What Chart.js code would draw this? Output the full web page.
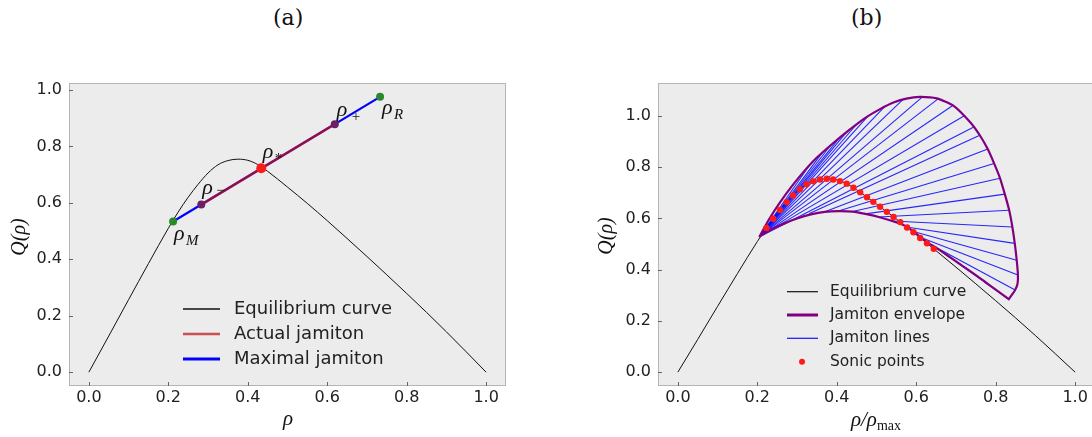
<!DOCTYPE html>
<html><head><meta charset="utf-8">
<script src="https://cdn.jsdelivr.net/npm/chart.js@4.4.0/dist/chart.umd.min.js"></script>
<style>
html,body{margin:0;padding:0;background:#fff;overflow:hidden;width:1092px;height:437px;}
#wrapA{position:absolute;left:0;top:0;width:546px;height:437px;}
#wrapB{position:absolute;left:546px;top:0;width:560px;height:437px;}
.ttl{position:absolute;top:5px;line-height:26px;font-family:"DejaVu Serif",serif;font-size:22px;color:#111;}
</style></head><body>
<div class="ttl" style="left:273px">(a)</div>
<div class="ttl" style="left:851px">(b)</div>
<div id="wrapA"><canvas id="ca" width="546" height="437" style="width:546px;height:437px"></canvas></div>
<div id="wrapB"><canvas id="cb" width="560" height="437" style="width:560px;height:437px"></canvas></div>
<script>
// ---------------- data ----------------
const xTickVals = [0, 0.2, 0.4, 0.6, 0.8, 1.0];
const xTickLabels = ['0.0', '0.2', '0.4', '0.6', '0.8', '1.0'];
const yTickVals = [0, 0.2, 0.4, 0.6, 0.8, 1.0];
const yTickLabels = ['0.0', '0.2', '0.4', '0.6', '0.8', '1.0'];

// equilibrium curve Q(rho)
const eqRho = [0,0.05,0.1,0.15,0.2,0.225,0.25,0.275,0.3,0.325,0.35,0.375,0.4,0.425,0.45,0.5,0.55,0.6,0.65,0.7,0.75,0.8,0.85,0.9,0.95,1.0];
const eqQ   = [0,0.128,0.257,0.385,0.51,0.568,0.62,0.666,0.706,0.735,0.750,0.755,0.751,0.736,0.712,0.656,0.598,0.537,0.474,0.41,0.345,0.279,0.212,0.143,0.072,0];

// panel (a): maximal and actual jamiton, marked points
const maxJamRho = [0.212, 0.733];
const maxJamQ   = [0.534, 0.976];
const actJamRho = [0.283, 0.619];
const actJamQ   = [0.594, 0.879];
const markRho = [0.212, 0.283, 0.434, 0.619, 0.733];
const markQ   = [0.534, 0.594, 0.723, 0.879, 0.976];
const markSub = ['M', '\u2212', '*', '+', 'R'];

// panel (b): jamiton envelope (upper and lower branches)
const upperRho = [0.205,0.23,0.258,0.29,0.318,0.35,0.387,0.43,0.472,0.51,0.541,0.575,0.609,0.652,0.695,0.737,0.760,0.780,0.796,0.811,0.823,0.834,0.842,0.848,0.853,0.856,0.855,0.849,0.833];
const upperQ   = [0.528,0.598,0.665,0.732,0.785,0.838,0.889,0.944,0.993,1.028,1.052,1.068,1.075,1.069,1.039,0.974,0.925,0.871,0.815,0.757,0.695,0.632,0.567,0.503,0.437,0.379,0.345,0.321,0.285];
const lowerRho = [0.205,0.216,0.24,0.267,0.30,0.335,0.37,0.404,0.44,0.472,0.51,0.549,0.577,0.60,0.627,0.65,0.685,0.712,0.742,0.772,0.80,0.833];
const lowerQ   = [0.528,0.540,0.561,0.580,0.600,0.616,0.626,0.629,0.627,0.618,0.604,0.585,0.567,0.541,0.508,0.486,0.449,0.42,0.388,0.354,0.322,0.285];

// jamiton lines (start -> end)
const lineStartRho = [0.206,0.206,0.206,0.206,0.206,0.207,0.207,0.208,0.208,0.209,0.209,0.210,0.211,0.212,0.330,0.370,0.404,0.440,0.472,0.505,0.540,0.575,0.593,0.610,0.627,0.644];
const lineStartQ   = [0.530,0.530,0.530,0.530,0.530,0.531,0.531,0.532,0.532,0.533,0.533,0.533,0.534,0.534,0.619,0.626,0.629,0.627,0.618,0.606,0.590,0.567,0.549,0.527,0.506,0.492];
const lineEndRho   = [0.330,0.365,0.385,0.405,0.425,0.450,0.478,0.520,0.567,0.615,0.655,0.692,0.720,0.745,0.760,0.780,0.796,0.811,0.823,0.834,0.842,0.848,0.853,0.856,0.849,0.833];
const lineEndQ     = [0.805,0.860,0.887,0.912,0.938,0.968,0.999,1.036,1.065,1.074,1.067,1.041,1.000,0.957,0.925,0.871,0.815,0.757,0.695,0.632,0.567,0.503,0.437,0.379,0.321,0.285];

// sonic points
const sonicRho = [0.223,0.240,0.257,0.274,0.290,0.307,0.324,0.341,0.358,0.375,0.391,0.408,0.425,0.442,0.459,0.476,0.492,0.509,0.526,0.543,0.560,0.577,0.593,0.610,0.627,0.644];
const sonicQ   = [0.563,0.599,0.633,0.664,0.690,0.714,0.734,0.745,0.752,0.755,0.752,0.746,0.736,0.720,0.702,0.683,0.665,0.646,0.626,0.606,0.586,0.565,0.546,0.524,0.503,0.482];

// ---------------- helpers ----------------
const pts = (xs, ys) => xs.map((v, i) => ({x: v, y: ys[i]}));
const RED_A = 'rgba(190,20,20,0.72)';
const SANS = '"DejaVu Sans", sans-serif';
const SERIF = '"Liberation Serif", "DejaVu Serif", serif';

function scalesFor(xr, yr, yW, xH) {
  const tickFont = {family: SANS, size: 16};
  return {
    x: {type: 'linear', min: xr[0], max: xr[1],
      afterBuildTicks: s => { s.ticks = xTickVals.map(v => ({value: v})); },
      afterFit: s => { s.height = xH; },
      grid: {display: false, drawTicks: false}, border: {display: false},
      ticks: {padding: 2, autoSkip: false, maxRotation: 0, font: tickFont, color: '#222',
        callback: (v, i) => xTickLabels[i]}},
    y: {type: 'linear', min: yr[0], max: yr[1],
      afterBuildTicks: s => { s.ticks = yTickVals.map(v => ({value: v})); },
      afterFit: s => { s.width = yW; },
      grid: {display: false, drawTicks: false}, border: {display: false},
      ticks: {padding: 7, autoSkip: false, font: tickFont, color: '#222',
        callback: (v, i) => yTickLabels[i]}}
  };
}

const framePlugin = {
  id: 'frame',
  beforeDraw(chart) {
    const {ctx, chartArea: a} = chart;
    ctx.save();
    ctx.fillStyle = '#ececec';
    ctx.fillRect(a.left, a.top, a.right - a.left, a.bottom - a.top);
    ctx.restore();
  },
  afterDraw(chart) {
    const {ctx, chartArea: a, scales: {x, y}} = chart;
    ctx.save();
    ctx.strokeStyle = '#b5b5b5';
    ctx.lineWidth = 1;
    ctx.strokeRect(a.left + 0.5, a.top + 0.5, a.right - a.left - 1, a.bottom - a.top - 1);
    ctx.strokeStyle = '#666';
    ctx.beginPath();
    xTickVals.forEach(v => { const p = Math.round(x.getPixelForValue(v)) + 0.5; ctx.moveTo(p, a.bottom); ctx.lineTo(p, a.bottom - 4); });
    yTickVals.forEach(v => { const p = Math.round(y.getPixelForValue(v)) + 0.5; ctx.moveTo(a.left, p); ctx.lineTo(a.left + 4, p); });
    ctx.stroke();
    ctx.restore();
  }
};

function drawYTitle(ctx, cx, cy) {
  ctx.save();
  ctx.translate(cx, cy);
  ctx.rotate(-Math.PI / 2);
  ctx.font = 'italic 20px ' + SERIF;
  ctx.fillStyle = '#111';
  ctx.textAlign = 'center';
  ctx.textBaseline = 'middle';
  ctx.fillText('Q(\u03c1)', 0, 0);
  ctx.restore();
}

// ---------------- chart (a) ----------------
const labelsA = {
  id: 'labelsA',
  afterDraw(chart) {
    const {ctx, scales: {x, y}} = chart;
    ctx.save();
    ctx.fillStyle = '#111';
    ctx.textAlign = 'left';
    ctx.textBaseline = 'alphabetic';
    const offs = [[1, 18], [1, -11], [1.5, -10], [2, -8], [2, 17]];
    const subOffs = [[12, 5], [14, 1], [12, 5], [15, 5], [12, 5]];
    markSub.forEach((s, i) => {
      const bx = x.getPixelForValue(markRho[i]) + offs[i][0];
      const by = y.getPixelForValue(markQ[i]) + offs[i][1];
      ctx.font = 'italic 22px ' + SERIF;
      ctx.fillText('\u03c1', bx, by);
      ctx.font = ((s === 'M' || s === 'R') ? 'italic ' : '') + '15px ' + SERIF;
      ctx.fillText(s, bx + subOffs[i][0], by + subOffs[i][1]);
    });
    // axis titles
    drawYTitle(ctx, 20, 237);
    ctx.font = 'italic 21px ' + SERIF;
    ctx.textAlign = 'center';
    ctx.textBaseline = 'alphabetic';
    ctx.fillText('\u03c1', 288, 425);
    // legend
    const rows = [
      {t: 'Equilibrium curve', c: '#111', w: 1.3},
      {t: 'Actual jamiton', c: RED_A, w: 2.5},
      {t: 'Maximal jamiton', c: '#0000ff', w: 3}
    ];
    const ys = [309, 334, 359];
    ctx.font = '18px ' + SANS;
    ctx.textAlign = 'left';
    ctx.textBaseline = 'middle';
    rows.forEach((r, i) => {
      ctx.strokeStyle = r.c; ctx.lineWidth = r.w;
      ctx.beginPath(); ctx.moveTo(183, ys[i]); ctx.lineTo(220, ys[i]); ctx.stroke();
      ctx.fillStyle = '#222';
      ctx.fillText(r.t, 234, ys[i]);
    });
    ctx.restore();
  }
};

new Chart(document.getElementById('ca'), {
  type: 'scatter',
  data: {datasets: [
    {label: 'points', data: pts(markRho, markQ), showLine: false, order: 0,
      pointRadius: [4, 4, 5, 4, 4], pointBorderWidth: 0,
      pointBackgroundColor: ['#2a8a2a', '#6b1f6b', '#ff1a1a', '#6b1f6b', '#2a8a2a']},
    {label: 'Actual jamiton', data: pts(actJamRho, actJamQ), showLine: true, order: 1,
      borderColor: RED_A, borderWidth: 2.6, pointRadius: 0},
    {label: 'Maximal jamiton', data: pts(maxJamRho, maxJamQ), showLine: true, order: 2,
      borderColor: '#0000ff', borderWidth: 2.2, pointRadius: 0},
    {label: 'Equilibrium curve', data: pts(eqRho, eqQ), showLine: true, order: 3,
      borderColor: '#111', borderWidth: 1, pointRadius: 0, cubicInterpolationMode: 'monotone'}
  ]},
  options: {
    responsive: false, animation: false, events: [],
    layout: {padding: {top: 83, right: 40, left: 0, bottom: 0}},
    plugins: {legend: {display: false}, tooltip: {enabled: false}},
    scales: scalesFor([-0.05, 1.05], [-0.049, 1.025], 69, 51)
  },
  plugins: [framePlugin, labelsA]
});

// ---------------- chart (b) ----------------
const envRho = upperRho.concat(lowerRho.slice().reverse());
const envQ = upperQ.concat(lowerQ.slice().reverse());
const lineSets = lineStartRho.map((r, i) => ({
  label: i === 0 ? 'Jamiton lines' : '',
  data: [{x: r, y: lineStartQ[i]}, {x: lineEndRho[i], y: lineEndQ[i]}],
  showLine: true, order: 2, borderColor: 'rgba(10,10,255,0.88)', borderWidth: 1.1, pointRadius: 0
}));

const labelsB = {
  id: 'labelsB',
  afterDraw(chart) {
    const {ctx} = chart;
    ctx.save();
    drawYTitle(ctx, 61, 236);
    // x title rho/rho_max
    ctx.fillStyle = '#111';
    ctx.textBaseline = 'alphabetic';
    ctx.textAlign = 'left';
    ctx.font = 'italic 21px ' + SERIF;
    const w1 = ctx.measureText('\u03c1/\u03c1').width;
    ctx.font = '14px ' + SERIF;
    const w2 = ctx.measureText('max').width;
    const x0 = 330 - (w1 + w2) / 2;
    ctx.font = 'italic 21px ' + SERIF;
    ctx.fillText('\u03c1/\u03c1', x0, 426);
    ctx.font = '14px ' + SERIF;
    ctx.fillText('max', x0 + w1, 430);
    // legend
    const ys = [291.7, 315, 338.3, 361.7];
    const rows = [
      {t: 'Equilibrium curve', c: '#111', w: 1.2},
      {t: 'Jamiton envelope', c: '#800080', w: 3},
      {t: 'Jamiton lines', c: '#1414ff', w: 1.2},
      {t: 'Sonic points', dot: true}
    ];
    ctx.font = '15.5px ' + SANS;
    ctx.textBaseline = 'middle';
    rows.forEach((r, i) => {
      if (r.dot) {
        ctx.fillStyle = '#ff1a1a';
        ctx.beginPath(); ctx.arc(256, ys[i], 3, 0, Math.PI * 2); ctx.fill();
      } else {
        ctx.strokeStyle = r.c; ctx.lineWidth = r.w;
        ctx.beginPath(); ctx.moveTo(241, ys[i]); ctx.lineTo(272, ys[i]); ctx.stroke();
      }
      ctx.fillStyle = '#222';
      ctx.fillText(r.t, 284, ys[i]);
    });
    ctx.restore();
  }
};

new Chart(document.getElementById('cb'), {
  type: 'scatter',
  data: {datasets: [
    {label: 'Sonic points', data: pts(sonicRho, sonicQ), showLine: false, order: 0,
      pointRadius: 3.2, pointBorderWidth: 0, pointBackgroundColor: '#ff1a1a'},
    {label: 'Jamiton envelope', data: pts(envRho, envQ), showLine: true, order: 1,
      borderColor: '#800080', borderWidth: 2.2, pointRadius: 0, tension: 0.2},
    ...lineSets,
    {label: 'Equilibrium curve', data: pts(eqRho, eqQ), showLine: true, order: 3,
      borderColor: '#111', borderWidth: 1, pointRadius: 0, cubicInterpolationMode: 'monotone'}
  ]},
  options: {
    responsive: false, animation: false, events: [],
    layout: {padding: {top: 83, right: 11, left: 0, bottom: 0}},
    plugins: {legend: {display: false}, tooltip: {enabled: false}},
    scales: scalesFor([-0.05, 1.05], [-0.054, 1.129], 112, 51)
  },
  plugins: [framePlugin, labelsB]
});
</script>
</body></html>
